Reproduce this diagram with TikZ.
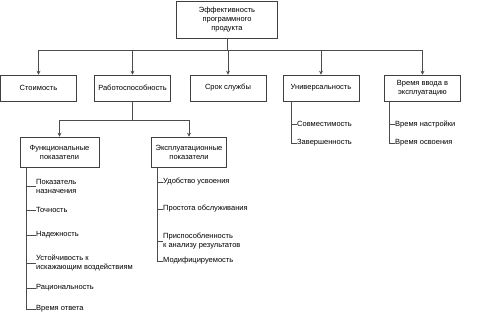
\documentclass[tikz,border=0pt]{standalone}
\usepackage{fontspec}
\setmainfont{Liberation Sans}
\usetikzlibrary{arrows.meta}
\begin{document}
\begin{tikzpicture}[x=1pt,y=-1pt,
 txt/.style={font=\fontsize{7.5}{9}\selectfont},
 box/.style={txt, draw=black!75, line width=0.6pt, minimum width=76pt, minimum height=26pt, align=center, inner sep=1pt},
 item/.style={txt, anchor=west, align=left, inner sep=0pt},
 conn/.style={draw=black!70, line width=0.6pt},
 arr/.style={conn, -{Stealth[length=4pt,width=4pt]}}]
\fill[white] (0,0) rectangle (497,335);
\useasboundingbox (0,0) rectangle (497,335);
% top
\node[box, minimum width=101pt, minimum height=37pt] (top) at (227,19.5) {Эффективность\\программного\\продукта};
% level 1
\node[box] (c1) at (38.5,88) {Стоимость};
\node[box] (c2) at (132.5,88) {Работоспособность};
\node[box] (c3) at (228,88) {Срок службы};
\node[box] (c4) at (321,88) {Универсальность};
\node[box] (c5) at (422.5,88) {Время ввода в\\эксплуатацию};
\coordinate (busA) at (0,50);
\draw[conn] (top.south) -- (top.south |- busA);
\draw[conn] (c1.north |- busA) -- (c5.north |- busA);
\foreach \n in {c1,c2,c3,c4,c5} \draw[arr] (\n.north |- busA) -- (\n.north);
% level 2
\node[box, minimum width=79pt, minimum height=30pt] (f) at (59.5,152) {Функциональные\\показатели};
\node[box, minimum width=75pt, minimum height=30pt] (e) at (189,152) {Эксплуатационные\\показатели};
\coordinate (busB) at (0,120);
\draw[conn] (c2.south) -- (c2.south |- busB);
\draw[conn] (f.north |- busB) -- (e.north |- busB);
\draw[arr] (f.north |- busB) -- (f.north);
\draw[arr] (e.north |- busB) -- (e.north);
% functional list
\coordinate (fl) at (26,0);
\node[item] (f1) at (36,186) {Показатель\\назначения};
\node[item] (f2) at (36,210) {Точность};
\node[item] (f3) at (36,235) {Надежность};
\node[item] (f4) at (36,263) {Устойчивость к\\искажающим воздействиям};
\node[item] (f5) at (36,288) {Рациональность};
\node[item] (f6) at (36,309) {Время ответа};
\draw[conn] (fl |- f.south) -- (fl |- f6.west);
\foreach \n in {f1,f2,f3,f4,f5,f6} \draw[conn] (fl |- \n.west) -- (\n.west);
% exploitation list
\coordinate (el) at (157,0);
\node[item] (e1) at (163,182) {Удобство усвоения};
\node[item] (e2) at (163,209) {Простота обслуживания};
\node[item] (e3) at (163,241) {Приспособленность\\к анализу результатов};
\node[item] (e4) at (163,261) {Модифицируемость};
\draw[conn] (el |- e.south) -- (el |- e4.west);
\foreach \n in {e1,e2,e3,e4} \draw[conn] (el |- \n.west) -- (\n.west);
% universality list
\coordinate (ul) at (291,0);
\node[item] (u1) at (297,124) {Совместимость};
\node[item] (u2) at (297,143) {Завершенность};
\draw[conn] (ul |- c4.south) -- (ul |- u2.west);
\foreach \n in {u1,u2} \draw[conn] (ul |- \n.west) -- (\n.west);
% time list
\coordinate (tl) at (389,0);
\node[item] (t1) at (395,124) {Время настройки};
\node[item] (t2) at (395,143) {Время освоения};
\draw[conn] (tl |- c5.south) -- (tl |- t2.west);
\foreach \n in {t1,t2} \draw[conn] (tl |- \n.west) -- (\n.west);
\end{tikzpicture}
\end{document}
